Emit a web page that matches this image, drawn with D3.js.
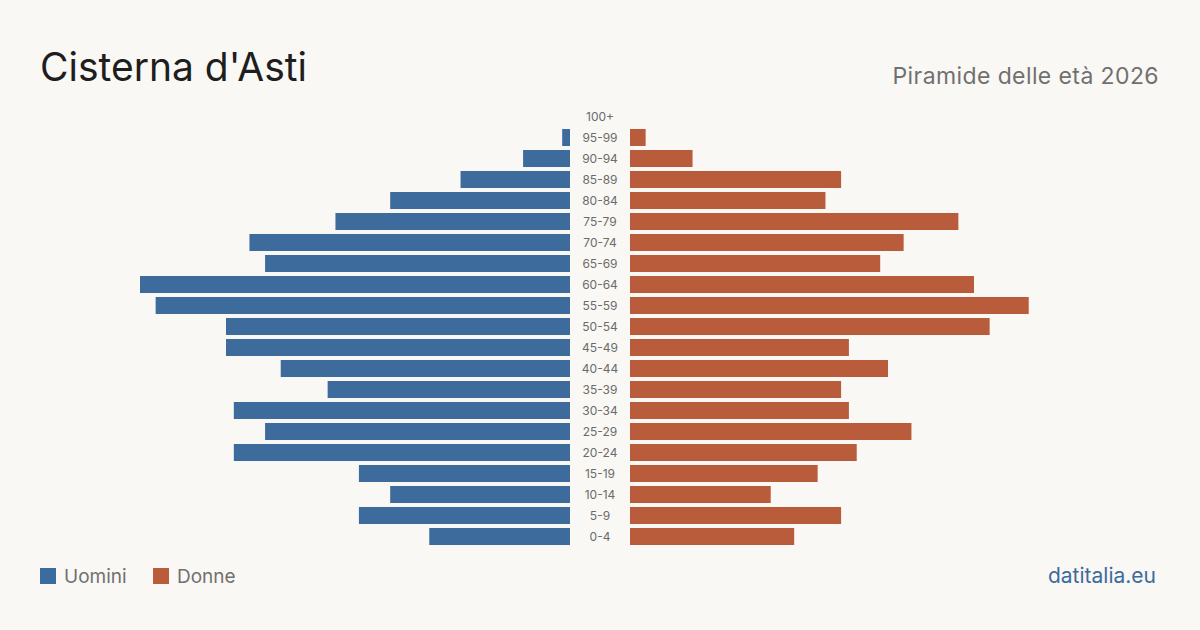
<!DOCTYPE html>
<html><head><meta charset="utf-8">
<script src="https://cdn.jsdelivr.net/npm/d3@7"></script>
<style>
html,body{margin:0;padding:0;background:#f9f8f4;}
svg{display:block;font-family:Inter,"Noto Sans",sans-serif;}
</style></head>
<body>
<svg id="c" width="1200" height="630"></svg>
<script>
const ageGroups = ["100+","95-99","90-94","85-89","80-84","75-79","70-74","65-69","60-64","55-59","50-54","45-49","40-44","35-39","30-34","25-29","20-24","15-19","10-14","5-9","0-4"];
const men   = [0,1,6,14,23,30,41,39,55,53,44,44,37,31,43,39,43,27,23,27,18];
const women = [0,2,8,27,25,42,35,32,44,51,46,28,33,27,28,36,29,24,18,27,21];
const seriesNames = ["Uomini","Donne"];
const colors = ["#3d6b9c","#b95c3c"];

const svg = d3.select("#c");
svg.append("rect").attr("width",1200).attr("height",630).attr("fill","#f9f8f4");

const maxV = d3.max(men.concat(women));
const y = d3.scaleBand().domain(ageGroups).range([106,547]).paddingInner(0.19).paddingOuter(0.095);
const xL = d3.scaleLinear().domain([0,maxV]).range([570,140]);
const xR = d3.scaleLinear().domain([0,maxV]).range([630,1060]);

svg.append("g").selectAll("rect").data(ageGroups).join("rect")
  .attr("x",(d,i)=>xL(men[i])).attr("width",(d,i)=>xL(0)-xL(men[i]))
  .attr("y",d=>y(d)).attr("height",y.bandwidth()).attr("fill",colors[0]);
svg.append("g").selectAll("rect").data(ageGroups).join("rect")
  .attr("x",xR(0)).attr("width",(d,i)=>xR(women[i])-xR(0))
  .attr("y",d=>y(d)).attr("height",y.bandwidth()).attr("fill",colors[1]);

svg.append("g").selectAll("text").data(ageGroups).join("text")
  .attr("x",600).attr("y",d=>y(d)+y.bandwidth()/2).attr("dy","0.35em")
  .attr("text-anchor","middle").attr("font-size",12).attr("fill","#6b6b6b").text(d=>d);

svg.append("text").attr("x",40).attr("y",81).attr("font-size",39).attr("fill","#1e1e1e").text("Cisterna d'Asti");
svg.append("text").attr("x",1159).attr("y",84).attr("text-anchor","end").attr("font-size",23).attr("letter-spacing",0.4).attr("fill","#707070").text("Piramide delle età 2026");

const lg = svg.append("g");
const lx = [40,153];
seriesNames.forEach((n,i)=>{
  lg.append("rect").attr("x",lx[i]).attr("y",568).attr("width",16).attr("height",16).attr("fill",colors[i]);
  lg.append("text").attr("x",lx[i]+24).attr("y",583).attr("font-size",19).attr("fill","#707070").text(n);
});
svg.append("text").attr("x",1156).attr("y",583).attr("text-anchor","end").attr("font-size",21).attr("fill","#3d6b9c").text("datitalia.eu");
</script>
</body></html>
